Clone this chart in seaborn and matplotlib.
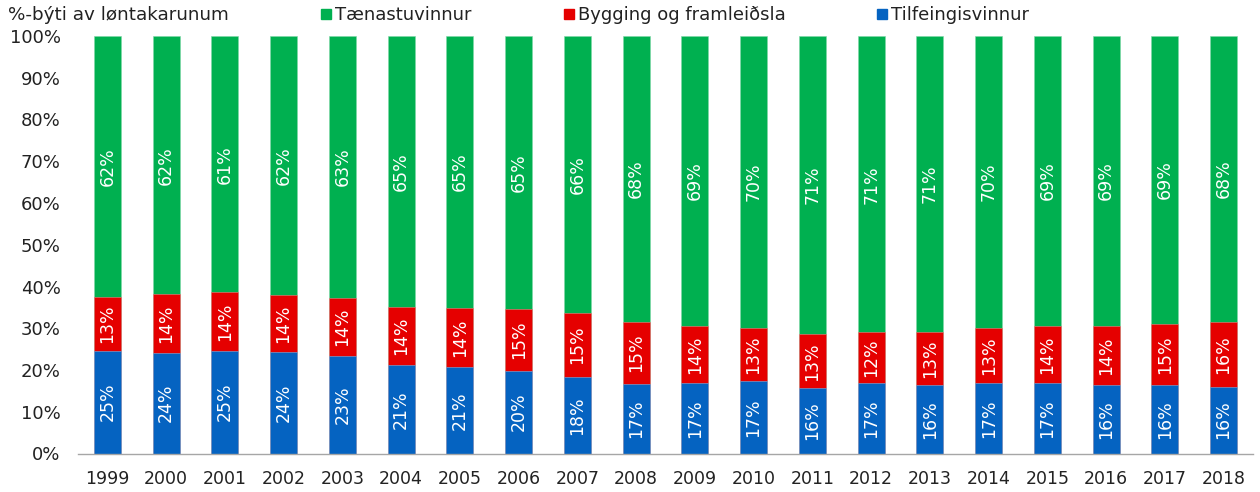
import matplotlib
matplotlib.use("Agg")
import matplotlib.pyplot as plt
import seaborn as sns
import numpy as np
import pandas as pd
from matplotlib.lines import Line2D

years = [str(y) for y in range(1999, 2019)]
tilfeingis = [24.6, 24.1, 24.6, 24.2, 23.3, 21.2, 20.6, 19.8, 18.3, 16.6,
              16.8, 17.3, 15.6, 16.8, 16.3, 16.8, 16.8, 16.3, 16.3, 16.0]
bygging = [13.0, 14.0, 14.0, 13.8, 13.9, 14.0, 14.3, 14.8, 15.3, 15.0,
           13.8, 12.8, 13.0, 12.2, 12.8, 13.3, 13.8, 14.3, 14.7, 15.6]
taenastu = [round(100 - a - b, 1) for a, b in zip(tilfeingis, bygging)]

series_names = ["Tænastuvinnur", "Bygging og framleiðsla", "Tilfeingisvinnur"]
header = "%-býti av løntakarunum"

c_blue = "#0563C1"
c_red = "#E50000"
c_green = "#00B050"

sns.set_theme(style="white")
plt.rcParams["font.family"] = ["DejaVu Sans"]

fig = plt.figure(figsize=(12.6, 4.92), dpi=100)
ax = fig.add_axes([78 / 1260, 1 - 453.5 / 492, (1253 - 78) / 1260, (453.5 - 36) / 492])

df = pd.DataFrame({"year": years, "blue": tilfeingis, "red": bygging, "green": taenastu})
df["cum_red"] = df["blue"] + df["red"]
df["cum_green"] = df["cum_red"] + df["green"]

w = 0.46
sns.barplot(data=df, x="year", y="cum_green", color=c_green, width=w, ax=ax,
            saturation=1, edgecolor="#7fd7a7", linewidth=0.4)
sns.barplot(data=df, x="year", y="cum_red", color=c_red, width=w, ax=ax,
            saturation=1, edgecolor="#f08080", linewidth=0.4)
sns.barplot(data=df, x="year", y="blue", color=c_blue, width=w, ax=ax,
            saturation=1, edgecolor="#82b1e0", linewidth=0.4)

for i in range(len(years)):
    segs = [(0, df["blue"][i]), (df["blue"][i], df["red"][i]), (df["cum_red"][i], df["green"][i])]
    for base, val in segs:
        ax.text(i, base + val / 2, f"{round(val):d}%", rotation=90, ha="center", va="center",
                color="white", fontsize=12.5)

ax.set_ylim(0, 100)
ax.set_xlim(-0.5, len(years) - 0.5)
ax.set_yticks(np.arange(0, 101, 10))
ax.set_yticklabels([f"{v}%" for v in range(0, 101, 10)], fontsize=13, color="#222222")
ax.set_xlabel("")
ax.set_ylabel("")
ax.tick_params(axis="x", labelsize=12.5, colors="#222222", length=0, pad=12)
ax.tick_params(axis="y", length=0, pad=12.5)
# category boundary ticks
ax.set_xticks(np.arange(-0.5, len(years), 1.0), minor=True)
ax.tick_params(axis="x", which="minor", length=6, color="#a6a6a6", width=1)
for s in ["top", "right", "left"]:
    ax.spines[s].set_visible(False)
ax.spines["bottom"].set_color("#a6a6a6")
ax.spines["bottom"].set_linewidth(1)
for lbl in ax.get_xticklabels():
    lbl.set_color("#222222")

fig.text(8 / 1260, 1 - 15 / 492, header, fontsize=13.2, ha="left", va="center", color="#222222")

handles = [Line2D([], [], marker="s", linestyle="none", markersize=6.5, color=c)
           for c in [c_green, c_red, c_blue]]
leg = fig.legend(handles, series_names, loc="center left", ncol=3,
                 bbox_to_anchor=(321 / 1260, 1 - 15 / 492), frameon=False,
                 fontsize=13, handlelength=0.6, handletextpad=0.2, columnspacing=5.05,
                 borderaxespad=0, borderpad=0)
for t in leg.get_texts():
    t.set_color("#222222")

fig.savefig("out.png", dpi=100)
